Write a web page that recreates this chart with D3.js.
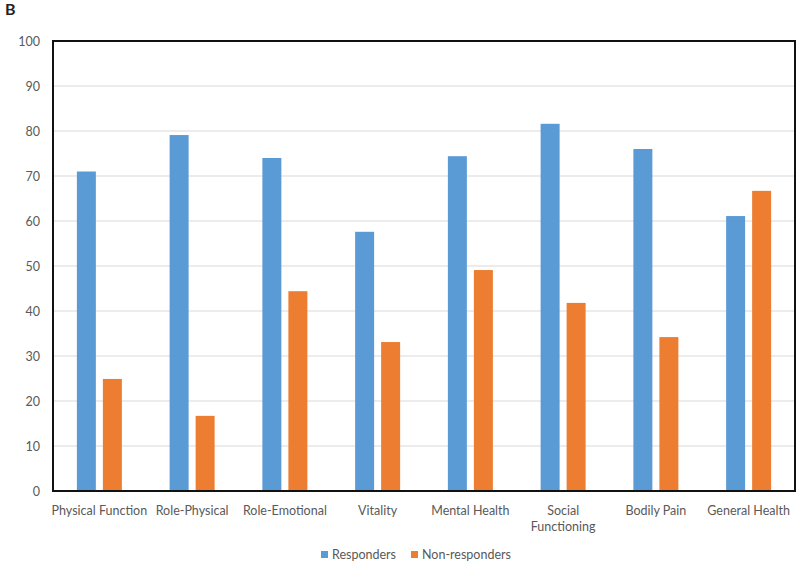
<!DOCTYPE html>
<html><head><meta charset="utf-8">
<script src="https://cdn.jsdelivr.net/npm/d3@7"></script>
<style>body{margin:0;background:#fff;} text{font-family:Lato,"Open Sans",sans-serif;}</style>
</head><body>
<svg id="c" width="800" height="570"></svg>
<script>
const categories = ["Physical Function","Role-Physical","Role-Emotional","Vitality","Mental Health","Social Functioning","Bodily Pain","General Health"];
const responders = [71.0, 79.1, 74.0, 57.6, 74.4, 81.6, 76.0, 61.1];
const nonResponders = [24.9, 16.7, 44.4, 33.1, 49.1, 41.8, 34.2, 66.7];
const seriesNames = ["Responders","Non-responders"];
const seriesColors = ["#5B9BD5","#ED7D31"];
const yTicks = [0,10,20,30,40,50,60,70,80,90,100];

const svg = d3.select("#c");
const L=53, R=795, T=41, B=491;
const y = d3.scaleLinear().domain([0,100]).range([B,T]);
const x0 = d3.scaleBand().domain(categories).range([L,R]).padding(0);
const groupW = 45;
const x1 = d3.scaleBand().domain(seriesNames).range([0,groupW]).paddingInner(0.27).paddingOuter(0);
const color = d3.scaleOrdinal().domain(seriesNames).range(seriesColors);

svg.append("text").attr("x",5).attr("y",15).attr("font-size",16).attr("font-weight","bold").attr("fill","#222").text("B");

// grid
svg.append("g").selectAll("line").data(yTicks.filter(t=>t>0&&t<100)).join("line")
  .attr("x1",L).attr("x2",R).attr("y1",d=>y(d)).attr("y2",d=>y(d))
  .attr("stroke","#d9d9d9").attr("stroke-width",1);

// y axis labels
const yAxis = d3.axisLeft(y).tickValues(yTicks).tickSize(0).tickPadding(13);
const ga = svg.append("g").attr("transform",`translate(${L},0)`).call(yAxis);
ga.select(".domain").remove();
ga.selectAll("text").attr("font-size",12.5).attr("fill","#595959").style("font-family","Lato,sans-serif");

// bars
const data = categories.map((c,i)=>({c, vals:[{s:seriesNames[0],v:responders[i]},{s:seriesNames[1],v:nonResponders[i]}]}));
const off = (x0.bandwidth()-groupW)/2;
const g = svg.append("g").selectAll("g").data(data).join("g")
  .attr("transform",d=>`translate(${x0(d.c)+off},0)`);
g.selectAll("rect").data(d=>d.vals).join("rect")
  .attr("x",d=>x1(d.s)).attr("width",x1.bandwidth())
  .attr("y",d=>y(d.v)).attr("height",d=>y(0)-y(d.v))
  .attr("fill",d=>color(d.s));

// frame
svg.append("rect").attr("x",L).attr("y",T).attr("width",R-L).attr("height",B-T)
  .attr("fill","none").attr("stroke","#111").attr("stroke-width",2);

// x labels
const xl = svg.append("g").selectAll("text").data(categories).join("text")
  .attr("x",d=>x0(d)+x0.bandwidth()/2).attr("y",515)
  .attr("text-anchor","middle").attr("font-size",12.5).attr("fill","#595959");
xl.each(function(d){
  const t = d3.select(this);
  if(d==="Social Functioning"){
    t.append("tspan").attr("x",x0(d)+x0.bandwidth()/2).attr("dy",0).text("Social");
    t.append("tspan").attr("x",x0(d)+x0.bandwidth()/2).attr("dy",16).text("Functioning");
  } else t.text(d);
});

// legend
const legX = [321, 411];
const lg = svg.append("g").selectAll("g").data(seriesNames).join("g")
  .attr("transform",(d,i)=>`translate(${legX[i]},551)`);
lg.append("rect").attr("width",7).attr("height",7).attr("fill",d=>color(d));
lg.append("text").attr("x",11).attr("y",8).attr("font-size",12.5).attr("fill","#595959").text(d=>d);
</script>
</body></html>
